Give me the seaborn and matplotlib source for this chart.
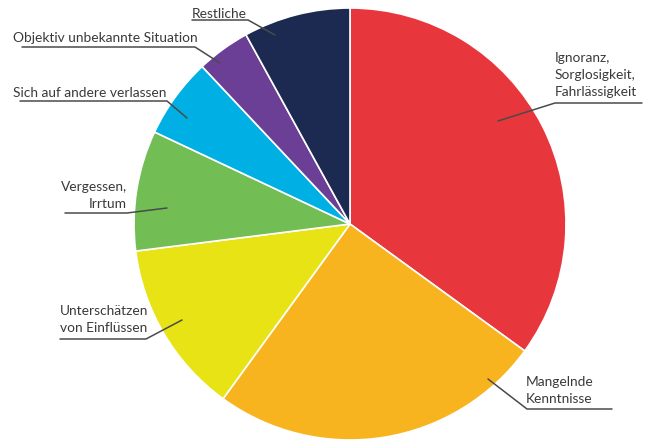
import matplotlib
matplotlib.use("Agg")
import matplotlib.pyplot as plt
import seaborn as sns

categories = ["Ignoranz,\nSorglosigkeit,\nFahrlässigkeit", "Mangelnde\nKenntnisse",
              "Unterschätzen\nvon Einflüssen", "Vergessen,\nIrrtum",
              "Sich auf andere verlassen", "Objektiv unbekannte Situation", "Restliche"]
values = [35, 25, 13, 9, 6, 4, 8]
colors = ["#E8363D", "#F8B41F", "#E7E314", "#72BE55", "#00B0E4", "#6A3F95", "#1C2A52"]

sns.set_theme(style="white")
plt.rcParams['font.family'] = ['Lato', 'DejaVu Sans']

W, H = 653, 441
fig = plt.figure(figsize=(W / 100, H / 100), dpi=100)
ax = fig.add_axes([0, 0, 1, 1])

cx, cy, r = 350, 224, 216
# y axis is inverted below, so start at -90 (visual top) and go "counterclockwise"
# in data space, which appears clockwise on screen
wedges, _ = ax.pie(values, colors=colors, startangle=-90, counterclock=True,
                   center=(cx, cy), radius=r, frame=True,
                   wedgeprops=dict(edgecolor="white", linewidth=1.2))
ax.set_xlim(0, W)
ax.set_ylim(H, 0)
ax.set_aspect("equal")
ax.axis("off")

# label layout: (text x, text y top, ha, underline x0, x1, underline y, tip x, tip y)
layout = [
    (555, 52, "left", 555, 642, 103, 498, 121),
    (526, 376, "left", 527, 612, 409, 488, 379),
    (60, 305, "left", 60, 146, 339, 182, 320),
    (127, 181, "right", 65, 127, 213, 167, 208),
    (13, 87, "left", 20, 167, 101, 187, 118),
    (13, 32, "left", 22, 195, 47, 220, 63),
    (192, 8, "left", 192, 248, 20, 275, 35),
]
lc = "#4a4a4a"
for lab, (tx, ty, ha, x0, x1, uy, px, py) in zip(categories, layout):
    ax.text(tx, ty, lab, ha=ha, va="top", fontsize=9.9, color="#3a3a3a",
            linespacing=1.5)
    if px < x0:
        ax.plot([x1, x0, px], [uy, uy, py], color=lc, lw=1.1)
    else:
        ax.plot([x0, x1, px], [uy, uy, py], color=lc, lw=1.1)

fig.savefig("out.png", dpi=100)
